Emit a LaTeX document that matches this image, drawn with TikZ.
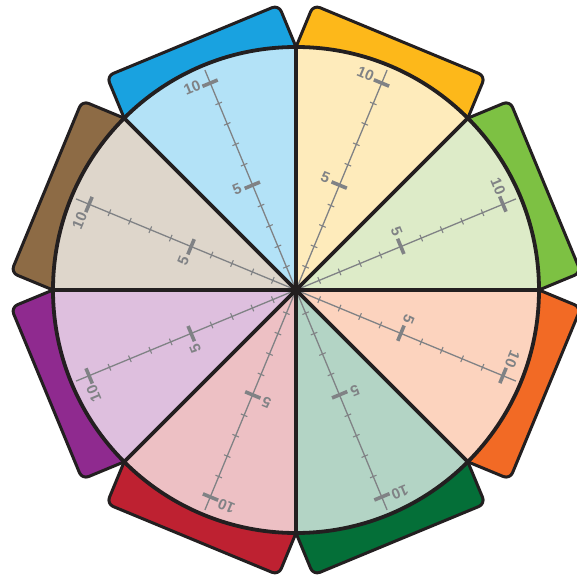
\documentclass[tikz,border=0pt]{standalone}
\usepackage{fontspec}
\setmainfont{Liberation Sans}
\definecolor{lineK}{HTML}{231F20}
\definecolor{scaleG}{HTML}{808285}
\definecolor{yelF}{HTML}{FEEBBB}\definecolor{yelT}{HTML}{FDB81A}
\definecolor{grnF}{HTML}{DDEBC8}\definecolor{grnT}{HTML}{7DC143}
\definecolor{orgF}{HTML}{FCD3BE}\definecolor{orgT}{HTML}{F26A25}
\definecolor{tealF}{HTML}{B3D4C5}\definecolor{tealT}{HTML}{046F38}
\definecolor{pinkF}{HTML}{EDC0C4}\definecolor{pinkT}{HTML}{BE2131}
\definecolor{purF}{HTML}{DEBFDE}\definecolor{purT}{HTML}{8F2A8F}
\definecolor{begF}{HTML}{DED6CB}\definecolor{begT}{HTML}{8D6B45}
\definecolor{bluF}{HTML}{B3E2F7}\definecolor{bluT}{HTML}{19A2E0}
\tikzset{
  tabshape/.style={draw=lineK, line width=3pt, rounded corners=7pt, line join=round},
  divider/.style={draw=lineK, line width=3.6pt},
  rim/.style={draw=lineK, line width=3.8pt},
  scaleline/.style={draw=scaleG, line width=1.3pt},
  minortick/.style={draw=scaleG, line width=1.1pt},
  majortick/.style={draw=scaleG, line width=3.6pt},
  scalelabel/.style={text=scaleG, font=\fontsize{15}{15}\selectfont\bfseries, inner sep=0pt}
}
\begin{document}
\begin{tikzpicture}[x=1pt,y=1pt]
\useasboundingbox (0,0) rectangle (577,582);
\coordinate (O) at (296,292);
\def\R{243}
% tabs
\foreach \ang/\fc/\tc [count=\i] in {67.5/yelF/yelT, 22.5/grnF/grnT, -22.5/orgF/orgT, -67.5/tealF/tealT, -112.5/pinkF/pinkT, -157.5/purF/purT, 157.5/begF/begT, 112.5/bluF/bluT}{
  \begin{scope}[shift={(O)}, rotate=\ang-90]
    \draw[tabshape, fill=\tc] (-93,190) -- (-93,270) -- (93,270) -- (93,190) -- cycle;
  \end{scope}
}
% sectors
\foreach \ang/\fc/\tc [count=\i] in {67.5/yelF/yelT, 22.5/grnF/grnT, -22.5/orgF/orgT, -67.5/tealF/tealT, -112.5/pinkF/pinkT, -157.5/purF/purT, 157.5/begF/begT, 112.5/bluF/bluT}{
  \fill[\fc] (O) -- ++(\ang-22.5:\R) arc[start angle=\ang-22.5, end angle=\ang+22.5, radius=\R] -- cycle;
}
% scales
\foreach \ang [count=\i] in {67.5, 22.5, -22.5, -67.5, -112.5, -157.5, 157.5, 112.5}{
  \begin{scope}[shift={(O)}, rotate=\ang-90]
    \draw[scaleline] (0,0) -- (0,238);
    \foreach \k in {1,2,3,4,6,7,8,9}{
      \draw[minortick] (-3.5,{3+22.1*\k}) -- (3.5,{3+22.1*\k});
    }
    \draw[majortick] (-8.5,{3+22.1*5}) -- (8,{3+22.1*5});
    \draw[majortick] (-8.5,{3+22.1*10}) -- (8,{3+22.1*10});
    \node[scalelabel, anchor=east, rotate=\ang-90] (five\i) at (-11.5,{3+22.1*5+2}) {5};
    \node[scalelabel, anchor=east, rotate=\ang-90] (ten\i) at (-10,{3+22.1*10+2.5}) {10};
  \end{scope}
}
% dividers and rim
\foreach \a in {0,45,90,135}{
  \begin{scope}[shift={(O)}]
    \draw[divider] (\a:\R) -- (\a+180:\R);
  \end{scope}
}
\draw[rim] (O) circle[radius=\R];
\end{tikzpicture}
\end{document}
